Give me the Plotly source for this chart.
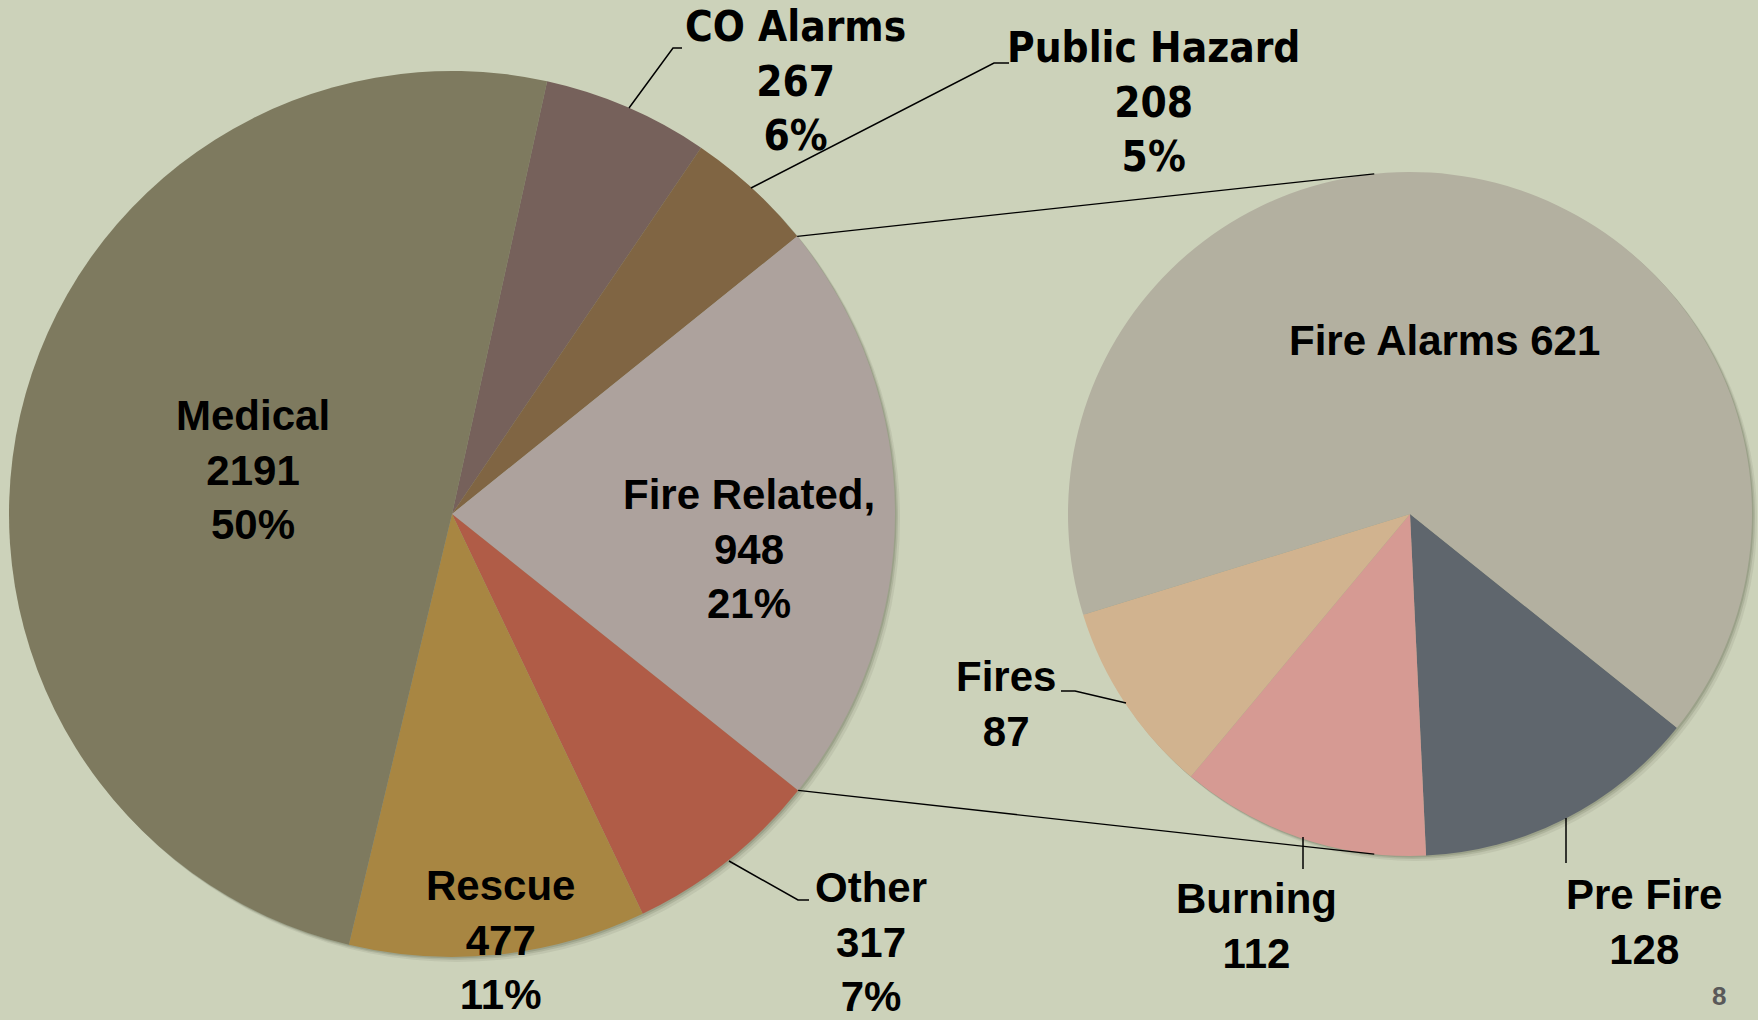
import math
import plotly.graph_objects as go

W, H = 1758, 1020

# ---- data ----
main_labels = ["CO Alarms", "Public Hazard", "Fire Related", "Other", "Rescue", "Medical"]
main_values = [267, 208, 948, 317, 477, 2191]
main_pct_text = ["6%", "5%", "21%", "7%", "11%", "50%"]
main_colors = ["#76615b", "#806543", "#ada29d", "#b05c47", "#a88642", "#7e7a5f"]

sub_labels = ["Pre Fire", "Burning", "Fires", "Fire Alarms"]
sub_values = [128, 112, 87, 621]
sub_colors = ["#5f666d", "#d69a93", "#d1b38f", "#b3b0a0"]

page_number = "8"

# ---- geometry (pixels) ----
MC, MR = (452, 514), 443
SC, SR = (1410, 514), 342
MAIN_ROT = 12.4
SUB_ROT = 128.7
BG = "#ccd2ba"


def px(x):
    return x / W


def py(y):
    return 1 - y / H


def dom(c, r):
    return dict(x=[px(c[0] - r), px(c[0] + r)], y=[py(c[1] + r), py(c[1] - r)])


def pt(c, r, ang):
    a = math.radians(ang)
    return (c[0] + r * math.sin(a), c[1] - r * math.cos(a))


fig = go.Figure()

fig.add_trace(go.Pie(
    labels=main_labels, values=main_values, sort=False, direction="clockwise",
    rotation=MAIN_ROT, marker=dict(colors=main_colors, line=dict(width=0)),
    textinfo="none", hoverinfo="label+value", domain=dom(MC, MR), showlegend=False,
))
fig.add_trace(go.Pie(
    labels=sub_labels, values=sub_values, sort=False, direction="clockwise",
    rotation=SUB_ROT, marker=dict(colors=sub_colors, line=dict(width=0)),
    textinfo="none", hoverinfo="label+value", domain=dom(SC, SR), showlegend=False,
))

shapes = []
# soft shadows
for c, r in [(MC, MR), (SC, SR)]:
    for off, alpha in [(5, 0.08), (3, 0.12), (1.5, 0.15)]:
        shapes.append(dict(type="circle", xref="paper", yref="paper", layer="below",
                           x0=px(c[0] - r + off), x1=px(c[0] + r + off),
                           y0=py(c[1] + r + off), y1=py(c[1] - r + off),
                           fillcolor=f"rgba(50,55,35,{alpha})", line=dict(width=0)))


def polyline(points, width=1.5):
    path = "M " + " L ".join(f"{px(x)},{py(y)}" for x, y in points)
    shapes.append(dict(type="path", xref="paper", yref="paper", path=path,
                       line=dict(color="black", width=width)))


# connector lines from Fire Related slice edges to secondary pie
total = sum(main_values)
start = MAIN_ROT
angles = []
for v in main_values:
    angles.append((start, start + v / total * 360))
    start += v / total * 360
fr0, fr1 = angles[main_labels.index("Fire Related")]
p0 = pt(MC, MR, fr0)
p1 = pt(MC, MR, fr1)
q0 = pt(SC, SR, -6)
q1 = pt(SC, SR, 186)
polyline([p0, q0], 1.3)
polyline([p1, q1], 1.3)

# leader lines
polyline([(629, 108), (673, 48), (682, 48)])
polyline([(751, 188), (994, 63), (1009, 63)])
polyline([(729, 861), (798, 900), (809, 900)])
polyline([(1126, 703), (1075, 691), (1061, 691)])
polyline([(1303, 837), (1303, 869)])
polyline([(1566, 818), (1566, 863)])

FONT = "Liberation Sans, Arial, sans-serif"
NARROW = "Liberation Sans Narrow, DejaVu Sans Condensed, sans-serif"
annotations = []


def label(text, x, y, size=42, family=FONT):
    annotations.append(dict(text=text, x=px(x), y=py(y), xref="paper", yref="paper",
                            showarrow=False, xanchor="center", yanchor="middle",
                            font=dict(family=family, size=size, color="black", weight="bold")))


mv = dict(zip(main_labels, main_values))
mp = dict(zip(main_labels, main_pct_text))
sv = dict(zip(sub_labels, sub_values))

label(f"Medical<br>{mv['Medical']}<br>{mp['Medical']}", 253, 470)
label(f"Fire Related,<br>{mv['Fire Related']}<br>{mp['Fire Related']}", 749, 549)
label(f"Rescue<br>{mv['Rescue']}<br>{mp['Rescue']}", 500, 940)
label(f"Other<br>{mv['Other']}<br>{mp['Other']}", 871, 942)
label(f"CO Alarms<br>{mv['CO Alarms']}<br>{mp['CO Alarms']}", 795, 81, 42, NARROW)
label(f"Public Hazard<br>{mv['Public Hazard']}<br>{mp['Public Hazard']}", 1153, 102, 42, NARROW)
label(f"Fire Alarms {sv['Fire Alarms']}", 1444, 341)
label(f"Fires<br>{sv['Fires']}", 1006, 704)
label(f"Burning<br>{sv['Burning']}", 1256, 926)
label(f"Pre Fire<br>{sv['Pre Fire']}", 1644, 922)

annotations.append(dict(text=page_number, x=px(1719), y=py(996), xref="paper", yref="paper",
                        showarrow=False, xanchor="center", yanchor="middle",
                        font=dict(family=FONT, size=26, color="#595959", weight="bold")))

fig.update_layout(
    width=W, height=H, margin=dict(l=0, r=0, t=0, b=0),
    paper_bgcolor=BG, plot_bgcolor=BG,
    shapes=shapes, annotations=annotations, showlegend=False,
)

fig.write_html(
    "out.html",
    config={"displayModeBar": False},
    post_script=f"document.body.style.margin='0';document.body.style.overflow='hidden';"
                f"document.body.style.background='{BG}';",
)
